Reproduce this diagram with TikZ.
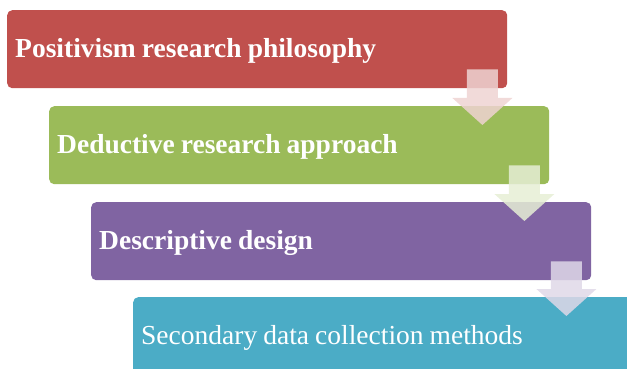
\documentclass[tikz,border=0pt]{standalone}
\usepackage{fontspec}
\setmainfont{Liberation Serif}
\usetikzlibrary{calc}

\definecolor{stageRed}{HTML}{C0504D}
\definecolor{stageGreen}{HTML}{9BBB59}
\definecolor{stagePurple}{HTML}{8064A2}
\definecolor{stageBlue}{HTML}{4BACC6}

\tikzset{
  stagebox/.style={
    anchor=north west, rounded corners=5pt, draw=none,
    minimum width=500pt, minimum height=78pt,
    text width=484pt, text depth=2pt, inner xsep=8pt, inner ysep=0pt, align=left,
    text=white, font=\fontsize{27.5}{30}\selectfont\bfseries,
    execute at begin node={\spaceskip=0.22em\relax}
  },
  plainstage/.style={stagebox, font=\fontsize{27.5}{30}\selectfont},
  stagearrowfill/.style={fill=#1!25!white, fill opacity=0.85, draw=none}
}

% block arrow leading from the lower right of one stage into the next
\newcommand\stagearrow[3]{%
  \fill[stagearrowfill=#3]
    let \p1=(#1.south east), \p2=(#2.north west),
        \n1={\x1-25pt}, \n2={\y1+19pt}, \n3={\y2-19pt}, \n4={\y2-19pt+27pt} in
    (\n1-15.5pt,\n2) -- (\n1+15.5pt,\n2) -- (\n1+15.5pt,\n4) -- (\n1+30pt,\n4)
    -- (\n1,\n3) -- (\n1-30pt,\n4) -- (\n1-15.5pt,\n4) -- cycle;
}

\begin{document}
\begin{tikzpicture}[x=1pt,y=-1pt]
  \useasboundingbox (0,0) rectangle (627,369);
  \clip (0,0) rectangle (627,369);

  \node[stagebox, fill=stageRed]    (philosophy) at (7,10)   {Positivism research philosophy};
  \node[stagebox, fill=stageGreen]  (approach)   at (49,106) {Deductive research approach};
  \node[stagebox, fill=stagePurple] (design)     at (91,202) {Descriptive design};
  \node[plainstage, fill=stageBlue] (methods)    at (133,297) {Secondary data collection methods};

  \stagearrow{philosophy}{approach}{stageRed}
  \stagearrow{approach}{design}{stageGreen}
  \stagearrow{design}{methods}{stagePurple}
\end{tikzpicture}
\end{document}
